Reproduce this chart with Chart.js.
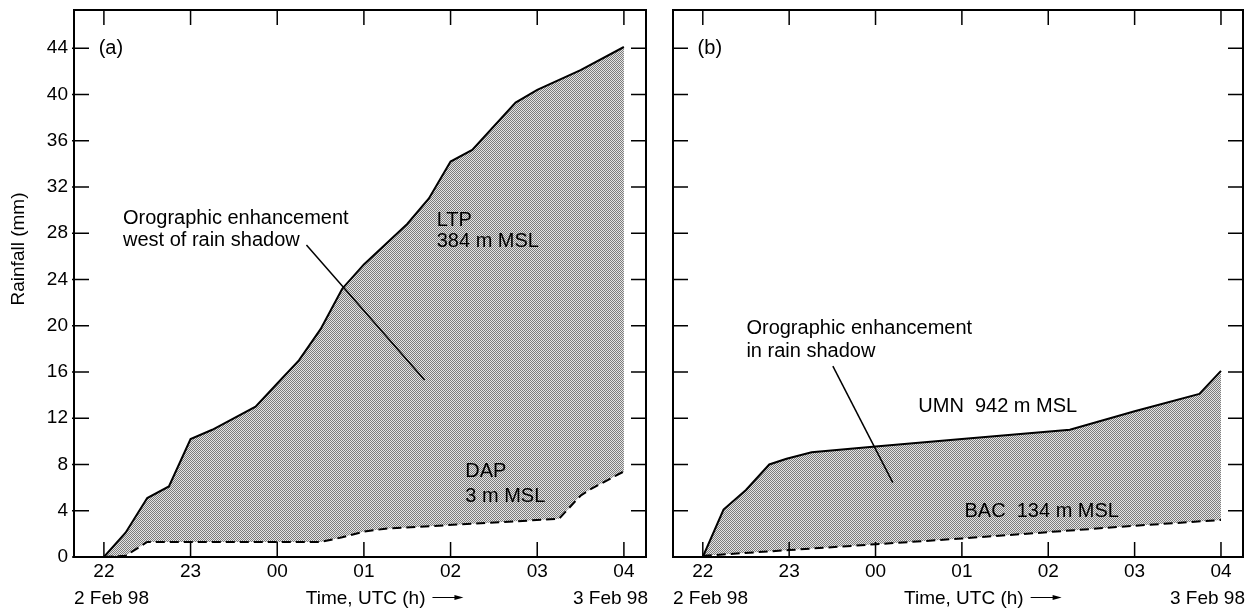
<!DOCTYPE html>
<html>
<head>
<meta charset="utf-8">
<script src="https://cdn.jsdelivr.net/npm/chart.js@4.4.1/dist/chart.umd.min.js"></script>
<style>
    html, body { margin: 0; padding: 0; background: #fff; }
    #wrap { position: relative; width: 1253px; height: 609px; }
    canvas { position: absolute; top: 0; }
    #panelA { left: 0; }
    #panelB { left: 660px; }
</style>
</head>
<body>
<div id="wrap">
    <canvas id="panelA" width="656" height="609"></canvas>
    <canvas id="panelB" width="593" height="609"></canvas>
</div>
<script>
// Time axis: hours after 22 UTC, 2 Feb 98
const hourLabels = ['22', '23', '00', '01', '02', '03', '04'];
const rainTicks = [0, 4, 8, 12, 16, 20, 24, 28, 32, 36, 40, 44];

// (a) LTP 384 m MSL
const ltpTime = [0, 0.25, 0.5, 0.75, 1.0, 1.25, 1.75, 2.0, 2.25, 2.5, 2.75, 3.0, 3.5, 3.75, 4.0, 4.25, 4.75, 5.0, 5.5, 6.0];
const ltpRain = [0, 2.1, 5.1, 6.1, 10.2, 11.0, 13.0, 15.0, 17.0, 19.7, 23.2, 25.3, 28.8, 31.0, 34.2, 35.2, 39.3, 40.4, 42.1, 44.1];

// (a) DAP 3 m MSL
const dapTime = [0, 0.25, 0.5, 2.5, 2.75, 3.0, 3.25, 5.25, 5.5, 5.6, 6.0];
const dapRain = [0, 0.1, 1.3, 1.3, 1.7, 2.2, 2.45, 3.3, 5.3, 5.8, 7.4];

// (b) UMN 942 m MSL
const umnTime = [0, 0.24, 0.5, 0.77, 0.97, 1.26, 2.0, 3.0, 4.25, 5.0, 5.75, 6.0];
const umnRain = [0, 4.1, 5.8, 8.0, 8.5, 9.05, 9.55, 10.2, 11.0, 12.6, 14.1, 16.1];

// (b) BAC 134 m MSL
const bacTime = [0, 1, 2, 3, 4, 5, 6];
const bacRain = [0.1, 0.6, 1.1, 1.6, 2.15, 2.7, 3.2];

const fontFamily = '"Liberation Sans", Arial, sans-serif';
const tickFont = { family: fontFamily, size: 19 };

function toPoints(times, values) {
    return times.map((t, i) => ({ x: t, y: values[i] }));
}

// dotted grey screen like the printed figure
function makeStipple() {
    const c = document.createElement('canvas');
    c.width = 2;
    c.height = 2;
    const g = c.getContext('2d');
    g.fillStyle = '#e4e4e4';
    g.fillRect(0, 0, 2, 2);
    g.fillStyle = '#7c7c7c';
    g.fillRect(0, 0, 1, 1);
    g.fillRect(1, 1, 1, 1);
    return g.createPattern(c, 'repeat');
}
const stipple = makeStipple();

// frame, inside ticks, labels and leader line
const panelDecor = {
    id: 'panelDecor',
    afterDatasetsDraw(chart, args, opts) {
        const ctx = chart.ctx;
        const area = chart.chartArea;
        const xs = chart.scales.x;
        const ys = chart.scales.y;
        ctx.save();

        ctx.strokeStyle = '#000';
        ctx.lineWidth = 2;
        ctx.strokeRect(area.left, area.top, area.right - area.left, area.bottom - area.top);

        ctx.lineWidth = 1.5;
        ctx.beginPath();
        xs.ticks.forEach(t => {
            const px = xs.getPixelForValue(t.value);
            ctx.moveTo(px, area.bottom);
            ctx.lineTo(px, area.bottom - 15);
            ctx.moveTo(px, area.top);
            ctx.lineTo(px, area.top + 15);
        });
        ys.ticks.forEach(t => {
            const py = ys.getPixelForValue(t.value);
            ctx.moveTo(area.left - (opts.outTick || 0), py);
            ctx.lineTo(area.left + 15, py);
            ctx.moveTo(area.right, py);
            ctx.lineTo(area.right - 15, py);
        });
        ctx.stroke();

        // leader line
        const ld = opts.leader;
        ctx.lineWidth = 1.5;
        ctx.beginPath();
        ctx.moveTo(xs.getPixelForValue(ld[0]), ys.getPixelForValue(ld[1]));
        ctx.lineTo(xs.getPixelForValue(ld[2]), ys.getPixelForValue(ld[3]));
        ctx.stroke();

        ctx.fillStyle = '#000';
        ctx.font = '20px ' + fontFamily;
        ctx.textAlign = 'left';
        opts.labels.forEach(l => {
            ctx.textBaseline = l.baseline || 'alphabetic';
            const px = xs.getPixelForValue(l.t);
            const py = ys.getPixelForValue(l.v);
            l.lines.forEach((s, i) => ctx.fillText(s, px, py + i * (l.gap || 22)));
        });

        // second row under the time axis
        const baseY = 604;
        ctx.font = '19px ' + fontFamily;
        ctx.textBaseline = 'alphabetic';
        ctx.fillText('2 Feb 98', area.left, baseY);
        const tx = xs.getPixelForValue(2.33);
        const timeText = 'Time, UTC (h)';
        ctx.fillText(timeText, tx, baseY);
        const ax = tx + ctx.measureText(timeText).width + 7;
        ctx.lineWidth = 1;
        ctx.beginPath();
        ctx.moveTo(ax, 597.5);
        ctx.lineTo(ax + 26, 597.5);
        ctx.stroke();
        ctx.beginPath();
        ctx.moveTo(ax + 31, 597.5);
        ctx.lineTo(ax + 22, 595);
        ctx.lineTo(ax + 22, 600);
        ctx.closePath();
        ctx.fill();
        ctx.textAlign = 'right';
        ctx.fillText('3 Feb 98', area.right + 2, baseY);

        if (opts.yTitle) {
            ctx.translate(19, 249);
            ctx.rotate(-Math.PI / 2);
            ctx.textAlign = 'center';
            ctx.textBaseline = 'middle';
            ctx.fillText(opts.yTitle, 0, 0);
        }
        ctx.restore();
    }
};

function buildPanel(canvasId, upper, lower, decor, showRain, axisWidth) {
    return new Chart(document.getElementById(canvasId), {
        type: 'line',
        data: {
            datasets: [
                {
                    data: upper,
                    borderColor: '#000',
                    borderWidth: 2,
                    backgroundColor: stipple,
                    fill: { target: 1 },
                    pointRadius: 0,
                    tension: 0
                },
                {
                    data: lower,
                    borderColor: '#000',
                    borderWidth: 2,
                    borderDash: [9, 5],
                    fill: false,
                    pointRadius: 0,
                    tension: 0
                }
            ]
        },
        options: {
            responsive: false,
            animation: false,
            devicePixelRatio: 1,
            layout: { padding: { top: 10, right: 10, left: 0, bottom: 0 } },
            plugins: {
                legend: { display: false },
                tooltip: { enabled: false },
                filler: { drawTime: 'beforeDatasetsDraw' },
                panelDecor: decor
            },
            scales: {
                x: {
                    type: 'linear',
                    min: -0.345,
                    max: 6.255,
                    grid: { display: false, drawTicks: false },
                    border: { display: false },
                    afterBuildTicks: s => { s.ticks = hourLabels.map((h, i) => ({ value: i })); },
                    ticks: {
                        padding: 3,
                        font: tickFont,
                        color: '#000',
                        maxRotation: 0,
                        autoSkip: false,
                        callback: v => hourLabels[Math.round(v)]
                    },
                    afterFit: s => {
                        s.height = 52;
                        s.paddingLeft = 0;
                        s.paddingRight = 0;
                    }
                },
                y: {
                    min: 0,
                    max: 47.3,
                    grid: { display: false, drawTicks: false },
                    border: { display: false },
                    afterBuildTicks: s => { s.ticks = rainTicks.map(v => ({ value: v })); },
                    ticks: {
                        display: showRain,
                        padding: 6,
                        font: tickFont,
                        color: '#000',
                        autoSkip: false
                    },
                    afterFit: s => {
                        s.width = axisWidth;
                        s.paddingTop = 0;
                        s.paddingBottom = 0;
                    }
                }
            }
        },
        plugins: [panelDecor]
    });
}

buildPanel('panelA', toPoints(ltpTime, ltpRain), toPoints(dapTime, dapRain), {
    yTitle: 'Rainfall (mm)',
    outTick: 2,
    leader: [2.337, 26.97, 3.70, 15.3],
    labels: [
        { t: -0.06, v: 44, lines: ['(a)'], baseline: 'middle' },
        { t: 0.22, v: 28.8, lines: ['Orographic enhancement', 'west of rain shadow'], gap: 22.5 },
        { t: 3.84, v: 28.6, lines: ['LTP', '384 m MSL'], gap: 21 },
        { t: 4.17, v: 6.9, lines: ['DAP', '3 m MSL'], gap: 24.5 }
    ]
}, true, 74);

buildPanel('panelB', toPoints(umnTime, umnRain), toPoints(bacTime, bacRain), {
    leader: [1.506, 16.5, 2.2, 6.43],
    labels: [
        { t: -0.06, v: 44, lines: ['(b)'], baseline: 'middle' },
        { t: 0.505, v: 19.3, lines: ['Orographic enhancement', 'in rain shadow'], gap: 23 },
        { t: 2.495, v: 12.5, lines: ['UMN  942 m MSL'] },
        { t: 3.03, v: 3.46, lines: ['BAC  134 m MSL'] }
    ]
}, false, 13);
</script>
</body>
</html>
